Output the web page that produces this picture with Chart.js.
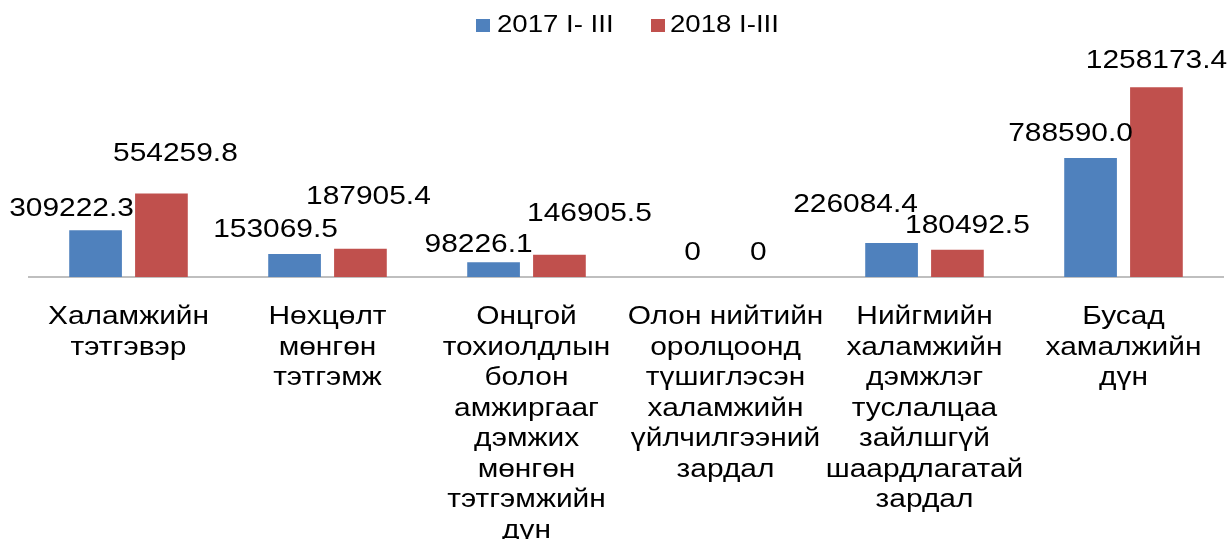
<!DOCTYPE html>
<html>
<head>
<meta charset="utf-8">
<script src="https://cdn.jsdelivr.net/npm/chart.js@4/dist/chart.umd.min.js"></script>
<style>
  html, body { margin: 0; padding: 0; background: #fff; }
  #wrap { width: 1229px; height: 539px; }
</style>
</head>
<body>
<div id="wrap"><canvas id="c" width="1229" height="539"></canvas></div>
<script>
const categories = [
  ["Халамжийн", "тэтгэвэр"],
  ["Нөхцөлт", "мөнгөн", "тэтгэмж"],
  ["Онцгой", "тохиолдлын", "болон", "амжиргааг", "дэмжих", "мөнгөн", "тэтгэмжийн", "дүн"],
  ["Олон нийтийн", "оролцоонд", "түшиглэсэн", "халамжийн", "үйлчилгээний", "зардал"],
  ["Нийгмийн", "халамжийн", "дэмжлэг", "туслалцаа", "зайлшгүй", "шаардлагатай", "зардал"],
  ["Бусад", "хамалжийн", "дүн"]
];
const seriesNames = ["2017 I- III", "2018 I-III"];
const values2017 = [309222.3, 153069.5, 98226.1, 0, 226084.4, 788590.0];
const values2018 = [554259.8, 187905.4, 146905.5, 0, 180492.5, 1258173.4];
const labels2017 = ["309222.3", "153069.5", "98226.1", "0", "226084.4", "788590.0"];
const labels2018 = ["554259.8", "187905.4", "146905.5", "0", "180492.5", "1258173.4"];

// manual label placement (pixel offsets from bar top centre), as in the source chart
const labelDx2017 = [-24, -19, -15, 0, -36, -20];
const labelDy2017 = [22, 24, 17, 24, 38, 24];
const labelDx2018 = [14, 8, 30, 0, 10, 0];
const labelDy2018 = [40, 52, 41, 24, 24, 26];

const COLORS = ['#4F81BD', '#C0504D'];
const FONT = "'Liberation Sans', Arial, sans-serif";
const STRETCH = 1.15;

function drawText(ctx, text, x, y, size, align) {
  ctx.save();
  ctx.font = size + "px " + FONT;
  ctx.textAlign = align || "center";
  ctx.textBaseline = "middle";
  ctx.fillStyle = "#000";
  ctx.translate(x, y);
  ctx.scale(STRETCH, 1);
  ctx.fillText(text, 0, 0);
  ctx.restore();
}

const textPlugin = {
  id: 'texts',
  afterDatasetsDraw(chart) {
    const ctx = chart.ctx;
    // data labels
    const sets = [
      { labels: labels2017, dx: labelDx2017, dy: labelDy2017 },
      { labels: labels2018, dx: labelDx2018, dy: labelDy2018 }
    ];
    sets.forEach((s, di) => {
      const meta = chart.getDatasetMeta(di);
      meta.data.forEach((bar, i) => {
        drawText(ctx, s.labels[i], bar.x + s.dx[i], bar.y - s.dy[i], 26);
      });
    });
    // category labels
    const xs = chart.scales.x;
    const base = chart.chartArea.bottom + 40;
    categories.forEach((lines, i) => {
      const cx = xs.getPixelForTick(i);
      lines.forEach((ln, j) => {
        drawText(ctx, ln, cx, base + j * 30.5, 26);
      });
    });
    // legend
    const legendItems = [
      { name: seriesNames[0], box: 476, text: 497 },
      { name: seriesNames[1], box: 651, text: 670 }
    ];
    legendItems.forEach((it, i) => {
      ctx.fillStyle = COLORS[i];
      ctx.fillRect(it.box, 19, 14, 13);
      drawText(ctx, it.name, it.text, 25, 24, "left");
    });
  }
};

new Chart(document.getElementById('c'), {
  type: 'bar',
  data: {
    labels: categories,
    datasets: [
      { label: seriesNames[0], data: values2017, backgroundColor: COLORS[0] },
      { label: seriesNames[1], data: values2018, backgroundColor: COLORS[1] }
    ]
  },
  options: {
    responsive: false,
    animation: false,
    events: [],
    layout: { padding: { left: 29, right: 6, top: 44, bottom: 0 } },
    datasets: {
      bar: { categoryPercentage: 0.662, barPercentage: 0.8 }
    },
    plugins: {
      legend: { display: false },
      tooltip: { enabled: false }
    },
    scales: {
      x: {
        grid: { display: false, drawTicks: false },
        border: { display: true, color: '#BFBFBF', width: 2 },
        ticks: { display: false },
        afterFit(scale) { scale.height = 262; }
      },
      y: {
        display: false,
        min: 0,
        max: 1545000
      }
    }
  },
  plugins: [textPlugin]
});
</script>
</body>
</html>
